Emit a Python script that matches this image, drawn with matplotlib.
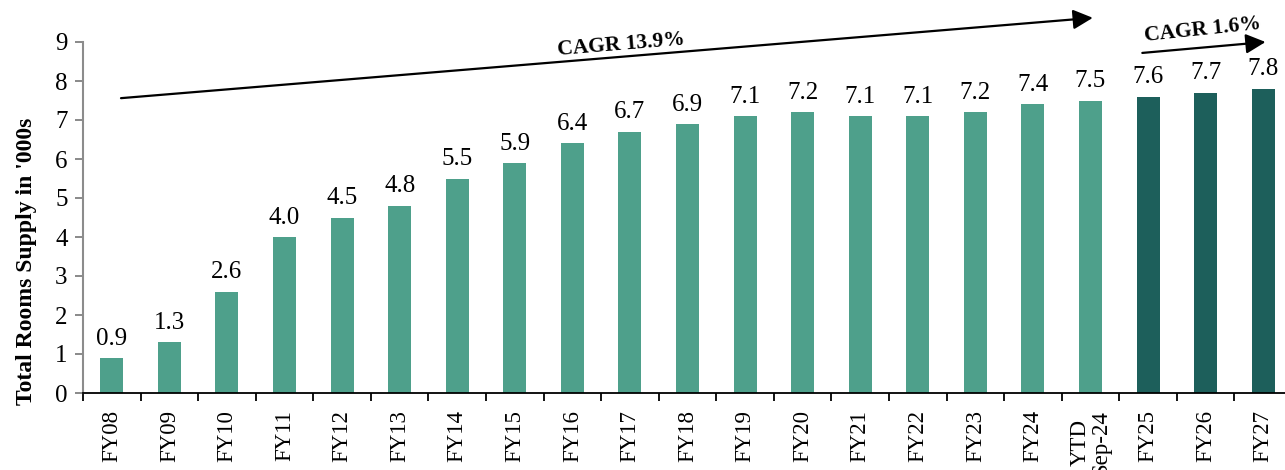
import matplotlib
matplotlib.use("Agg")
import matplotlib.pyplot as plt

categories = ["FY08", "FY09", "FY10", "FY11", "FY12", "FY13", "FY14", "FY15", "FY16",
              "FY17", "FY18", "FY19", "FY20", "FY21", "FY22", "FY23", "FY24",
              "YTD\nSep-24", "FY25", "FY26", "FY27"]
values = [0.9, 1.3, 2.6, 4.0, 4.5, 4.8, 5.5, 5.9, 6.4, 6.7, 6.9, 7.1, 7.2, 7.1, 7.1,
          7.2, 7.4, 7.5, 7.6, 7.7, 7.8]
is_forecast = [False] * 18 + [True] * 3
yticks = list(range(0, 10))

LIGHT = "#4EA08B"
DARK = "#1D5F5B"

plt.rcParams["font.family"] = ["Liberation Serif", "DejaVu Serif"]

fig = plt.figure(figsize=(12.85, 4.7), dpi=100)
ax = fig.add_axes([83 / 1285, 1 - 393 / 470, (1292 - 83) / 1285, (393 - 42) / 470])

x = list(range(len(categories)))
colors = [DARK if f else LIGHT for f in is_forecast]
bars = ax.bar(x, values, width=0.4, color=colors, zorder=2)
ax.bar_label(bars, labels=[f"{v:.1f}" for v in values], padding=6, fontsize=18)

ax.set_xlim(-0.5, len(categories) - 0.5)
ax.set_ylim(0, 9)
ax.set_yticks(yticks)
ax.set_yticklabels([str(t) for t in yticks], fontsize=18)
ax.set_xticks(x)
ax.set_xticklabels(categories, rotation=90, fontsize=16.5, va="top", ha="center",
                   multialignment="center", linespacing=0.95)
ax.tick_params(axis="x", length=0, pad=12)
ax.set_xticks([i - 0.5 for i in range(len(categories) + 1)], minor=True)
ax.tick_params(axis="x", which="minor", length=6, width=1.3, color="black", direction="out")
ax.tick_params(axis="y", length=6, width=1.3, color="#808080", direction="out", pad=5)

for s in ["top", "right"]:
    ax.spines[s].set_visible(False)
ax.spines["left"].set_color("#8c8c8c")
ax.spines["left"].set_linewidth(1.5)
ax.spines["bottom"].set_color("black")
ax.spines["bottom"].set_linewidth(1.3)

ax.set_ylabel("Total Rooms Supply in '000s", fontsize=17, fontweight="bold")
ax.yaxis.set_label_coords(-0.038, 0.376)

# CAGR arrows
arrow_kw = dict(arrowstyle="-|>,head_length=0.6,head_width=0.3", color="black",
                lw=1.6, shrinkA=0, shrinkB=0, mutation_scale=20)
ax.annotate("", xy=(17.04, 9.62), xytext=(0.16, 7.56), annotation_clip=False,
            arrowprops=arrow_kw)
ax.text(8.84, 8.92, "CAGR 13.9%", fontsize=15.5, fontweight="bold", ha="center", va="center",
        rotation=4.7, rotation_mode="anchor")
ax.annotate("", xy=(20.04, 9.0), xytext=(17.9, 8.72), annotation_clip=False,
            arrowprops=arrow_kw)
ax.text(18.95, 9.3, "CAGR 1.6%", fontsize=15.5, fontweight="bold", ha="center", va="center",
        rotation=6, rotation_mode="anchor", clip_on=False)

fig.savefig("out.png", dpi=100)
